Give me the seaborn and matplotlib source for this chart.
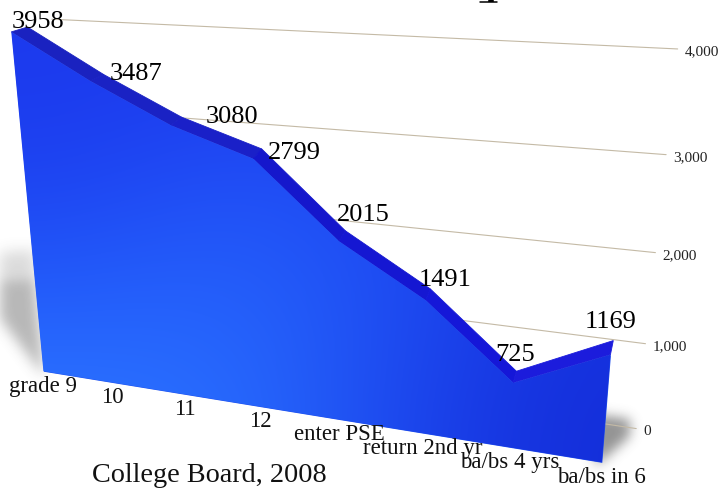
import numpy as np
import pandas as pd
import seaborn as sns
import matplotlib.pyplot as plt
from matplotlib.path import Path
from matplotlib.transforms import Transform

categories = ['grade 9', '10', '11', '12', 'enter PSE', 'return 2nd yr', 'ba/bs 4 yrs', 'ba/bs in 6']
students = [3958, 3487, 3080, 2799, 2015, 1491, 725, 1169]
grid_values = [0, 1000, 2000, 3000, 4000]
grid_labels = ['0', '1,000', '2,000', '3,000', '4,000']
source_note = 'College Board, 2008'

# perspective calibration: (category position, value) -> pixel on each plane
front_cal = [((0, 0), (43, 371)), ((3, 0), (261, 407)), ((7, 0), (600, 463)),
             ((0, 3958), (12, 33)), ((1, 3487), (90, 82)), ((2, 3080), (168, 125)),
             ((3, 2799), (253, 158)), ((4, 2015), (341, 237)), ((5, 1491), (428, 302)),
             ((6, 725), (513, 382)), ((7, 1169), (610, 356))]
back_cal = [((0, 0), (64, 367)), ((3, 0), (271, 402)), ((7, 0), (602, 450)),
            ((0, 3958), (33, 29)), ((1, 3487), (97, 72)), ((2, 3080), (177, 117)),
            ((3, 2799), (265, 153)), ((4, 2015), (347, 223)), ((5, 1491), (433, 292)),
            ((6, 725), (517, 369)), ((7, 1169), (612, 343))]
wall_cal = [((0, 4000), (52, 20.5)), ((0, 3000), (61.5, 108)), ((0, 2000), (71, 192)),
            ((0, 1000), (80.5, 271)), ((0, 0), (90, 347.6)),
            ((7, 4000), (678, 50)), ((7, 3000), (667, 154)), ((7, 2000), (655, 252)),
            ((7, 1000), (645, 343)), ((7, 0), (636, 429.5))]


def fit_plane(pairs):
    rows = []
    for (x, v), (px, py) in pairs:
        v = v / 1000
        rows.append([x, v, 1, 0, 0, 0, -px * x, -px * v, -px])
        rows.append([0, 0, 0, x, v, 1, -py * x, -py * v, -py])
    return np.linalg.svd(np.array(rows, dtype=float))[2][-1].reshape(3, 3)


class Plane(Transform):
    input_dims = 2
    output_dims = 2

    def __init__(self, pairs):
        super().__init__()
        self.h = fit_plane(pairs)

    def transform_non_affine(self, values):
        values = np.asarray(values, dtype=float)
        pts = np.c_[values[:, 0], values[:, 1] / 1000, np.ones(len(values))] @ self.h.T
        return pts[:, :2] / pts[:, 2:]


def blurred(polygon, sigma, xx, yy):
    inside = Path(polygon).contains_points(np.c_[xx.ravel(), yy.ravel()]).reshape(xx.shape).astype(float)
    r = np.arange(-3 * sigma, 3 * sigma + 1)
    kernel = np.exp(-r ** 2 / (2 * sigma ** 2))
    kernel /= kernel.sum()
    inside = np.apply_along_axis(lambda c: np.convolve(c, kernel, mode='same'), 0, inside)
    return np.apply_along_axis(lambda c: np.convolve(c, kernel, mode='same'), 1, inside)


sns.set_theme(style='white')
plt.rcParams['font.family'] = ['Liberation Serif', 'DejaVu Serif']

fig = plt.figure(figsize=(7.21, 4.91), dpi=100)
ax = fig.add_axes([0, 0, 1, 1])
ax.set_xlim(0, 721)
ax.set_ylim(491, 0)
ax.autoscale(False)
ax.axis('off')

front = Plane(front_cal)
back = Plane(back_cal)
wall = Plane(wall_cal)
xs = np.arange(len(categories))

# soft shadows on the floor
xx, yy = np.meshgrid(np.arange(721) + 0.5, np.arange(491) + 0.5)
shade = 0.2 * blurred([(-90, 258), (34, 250), (44, 376), (-8, 308), (-90, 272)], 7, xx, yy)
shade += 0.2 * blurred([(-90, 285), (34, 280), (44, 376), (-8, 308)], 6, xx, yy)
shade += 0.6 * blurred([(590, 414), (630, 419), (630, 436), (596, 466)], 6, xx, yy)
shadow_rgba = np.zeros((491, 721, 4))
shadow_rgba[..., :3] = 0.3
shadow_rgba[..., 3] = np.clip(shade, 0, 1)
ax.imshow(shadow_rgba, extent=(0, 721, 491, 0), aspect='auto', zorder=1)

# back wall grid lines
for value, label in zip(grid_values, grid_labels):
    line = pd.DataFrame({'x': [0, 7], 'y': [value, value]})
    sns.lineplot(data=line, x='x', y='y', ax=ax, color='#c4baa6', linewidth=0.8,
                 transform=wall + ax.transData, zorder=2)
    ax.annotate(label, (7, value), xycoords=wall + ax.transData, xytext=(7, -3),
                textcoords='offset pixels', fontsize=11, color='#222222', va='center', zorder=6)

# ridge on top of the area
ridge_colors = ['#1a22c0', '#1a22c4', '#1a20c8', '#1517cc', '#1517d2', '#1517d8', '#1c1cdc']
front_px = front.transform(np.c_[xs, students])
back_px = back.transform(np.c_[xs, students])
for i, color in enumerate(ridge_colors):
    quad = np.vstack([front_px[i:i + 2], back_px[i:i + 2][::-1]])
    ax.fill(quad[:, 0], quad[:, 1], color=color, linewidth=0.6, zorder=3)

# front face with a painted gradient
face = ax.fill_between(xs, 0, students, color='#2050ee', linewidth=0,
                       transform=front + ax.transData, zorder=4)
face_colors = np.array([
    [[28, 58, 238], [30, 62, 240], [28, 60, 235], [24, 52, 228]],
    [[30, 70, 242], [34, 84, 248], [30, 74, 244], [24, 54, 230]],
    [[36, 96, 252], [38, 100, 252], [30, 76, 242], [22, 50, 224]],
    [[44, 116, 255], [40, 108, 254], [28, 70, 238], [20, 46, 218]],
]) / 255
im = ax.imshow(face_colors, extent=(0, 640, 470, 30), aspect='auto', interpolation='bicubic', zorder=4.5)
im.set_clip_path(face.get_paths()[0], face.get_transform())
ax.set_xlim(0, 721)
ax.set_ylim(491, 0)

# value labels, nudged off the ridge corners
value_nudges = [(11, -5), (32, -1), (50, 0), (33, 4), (18, -16), (15, -9), (-1, -16), (-3, -19)]
for x, value, (dx, dy) in zip(xs, students, value_nudges):
    ax.annotate(str(value), (x, value), xycoords=back + ax.transData, xytext=(dx, -dy),
                textcoords='offset pixels', fontsize=19, ha='center', va='center',
                color='black', zorder=7)

for x, name in zip(xs, categories):
    ax.annotate(name, (x, 0), xycoords=front + ax.transData, xytext=(0, -15),
                textcoords='offset pixels', fontsize=16.5, ha='center', va='center',
                color='#111111', zorder=7)

ax.text(209, 475, source_note, fontsize=20.3, ha='center', va='center', color='#111111', zorder=7)
# what is left of the cropped title at the top edge
ax.plot([480, 497], [2.2, 2.2], color='black', linewidth=1.1, zorder=7)
ax.plot([491, 491], [0, 2.2], color='black', linewidth=4, solid_capstyle='butt', zorder=7)
ax.set_xlabel('')
ax.set_ylabel('')

fig.savefig('out.png', dpi=100)
